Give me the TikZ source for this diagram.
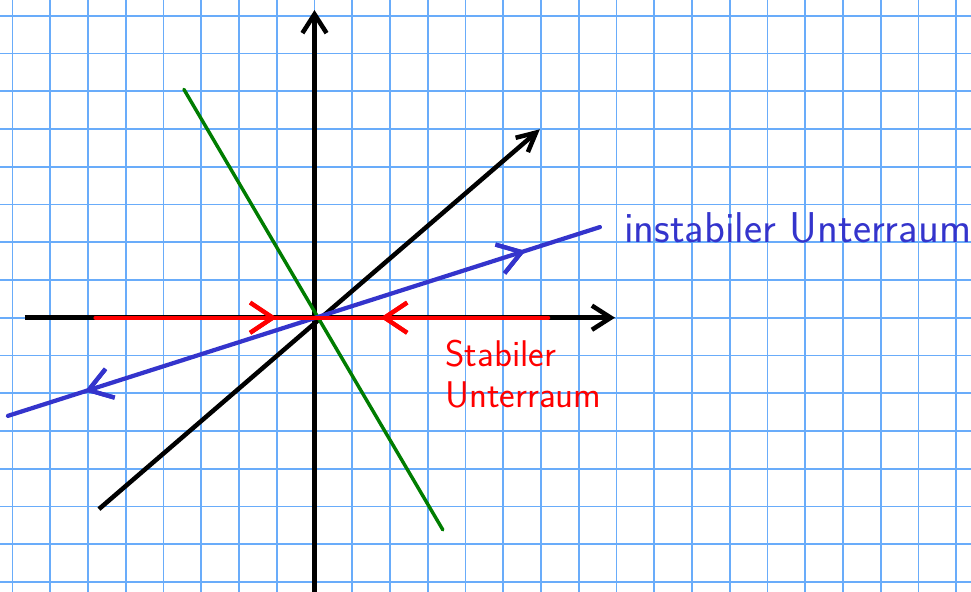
\documentclass[tikz,border=0pt]{standalone}
\usepackage{tikz}
\usetikzlibrary{arrows.meta,positioning,decorations.markings}
\definecolor{paperblue}{RGB}{105,172,250}
\definecolor{subblue}{RGB}{52,52,204}
\definecolor{subgreen}{RGB}{0,125,0}
\tikzset{
  >={Straight Barb[length=5mm,width=6.4mm]},
  paper/.style={paperblue,line width=1.3pt},
  axis/.style={->,line width=3.4pt,black},
  eigline/.style={line width=3.2pt,line cap=round},
  midtip/.style={postaction={decorate},decoration={markings,
    mark=at position #1 with {\arrow{Straight Barb[length=6mm,width=8mm]}}}},
  midtiprev/.style={postaction={decorate},decoration={markings,
    mark=at position #1 with {\arrowreversed{Straight Barb[length=6mm,width=8mm]}}}},
  sublbl/.style={font=\sffamily\fontsize{#1}{31pt}\selectfont,inner sep=0pt},
}
\begin{document}
\begin{tikzpicture}
  \useasboundingbox (-8.331,-7.24) rectangle (17.391,8.416);
  % karopapier
  \draw[paper] (-8.5,-7.5) grid (17.5,8.5);

  \coordinate (O) at (0,0);
  \coordinate (xl) at (-7.67,0);
  \coordinate (xr) at (7.96,0);
  \coordinate (yb) at (0,-7.4);
  \coordinate (yt) at (0,8.15);
  \coordinate (dl) at (-5.71,-5.07);
  \coordinate (dr) at (5.97,4.99);
  \coordinate (gt) at (-3.46,6.05);
  \coordinate (gb) at (3.40,-5.62);
  \coordinate (sl) at (-5.8,0);
  \coordinate (sr) at (6.19,0);
  \coordinate (ul) at (-8.12,-2.60);
  \coordinate (ur) at (7.56,2.40);

  % achsen
  \draw[axis] (xl) -- (xr);
  \draw[axis] (yb) -- (yt);
  \draw[axis,>={Straight Barb[length=5mm,width=5mm]}] (dl) -- (dr);

  % unterraeume
  \draw[eigline,subgreen,line width=2.6pt] (gt) -- (gb);
  \draw[eigline,subblue,midtip=0.874,midtiprev=0.13] (ul) -- (ur);
  \draw[eigline,red,midtip=0.40,midtiprev=0.63] (sl) -- (sr);

  % beschriftung
  \node[sublbl=32.5pt,subblue,anchor=base west] (instab) at (8.2,2.0) {instabiler Unterraum};
  \node[sublbl=28pt,red,anchor=north west,align=left] (stab) at (3.46,-0.58) {Stabiler\\Unterraum};
\end{tikzpicture}
\end{document}
